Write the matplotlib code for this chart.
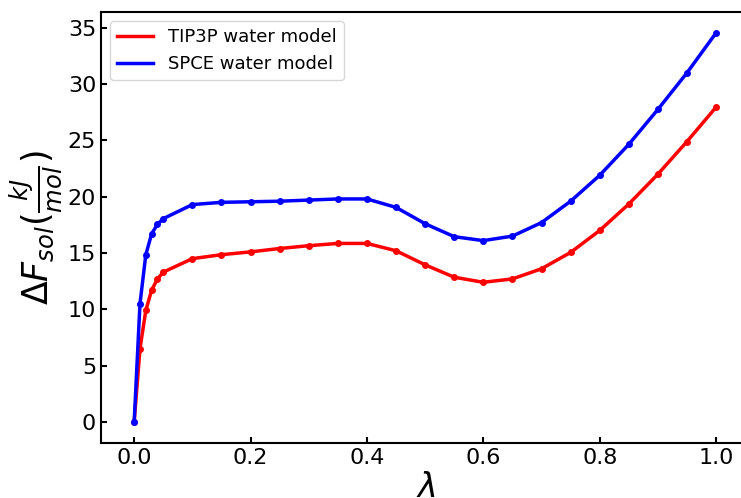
import matplotlib
matplotlib.use('Agg')
import matplotlib.pyplot as plt

lam = [0.0, 0.01, 0.02, 0.03, 0.04, 0.05, 0.1, 0.15, 0.2, 0.25, 0.3, 0.35, 0.4,
       0.45, 0.5, 0.55, 0.6, 0.65, 0.7, 0.75, 0.8, 0.85, 0.9, 0.95, 1.0]
tip3p = [0.0, 6.5, 9.9, 11.7, 12.7, 13.3, 14.5, 14.85, 15.1, 15.4, 15.65, 15.85, 15.85,
         15.2, 13.95, 12.85, 12.4, 12.7, 13.6, 15.05, 17.0, 19.35, 22.0, 24.9, 27.95]
spce = [0.0, 10.5, 14.85, 16.7, 17.55, 18.05, 19.3, 19.5, 19.55, 19.6, 19.7, 19.8, 19.8,
        19.05, 17.6, 16.45, 16.1, 16.5, 17.7, 19.6, 21.9, 24.65, 27.75, 31.0, 34.55]

fig = plt.figure(figsize=(7.41, 4.98), dpi=100)
ax = fig.add_axes([101 / 741, 55 / 498, 650 / 741, 431 / 498])

ax.plot(lam, tip3p, 'r-', lw=2.5, label='TIP3P water model')
ax.plot(lam, tip3p, 'r.', ms=8)
ax.plot(lam, spce, 'b-', lw=2.5, label='SPCE water model')
ax.plot(lam, spce, 'b.', ms=8)

ax.set_xlim(-0.057, 1.06)
ax.set_ylim(-1.87, 36.4)
ax.set_xticks([0.0, 0.2, 0.4, 0.6, 0.8, 1.0])
ax.set_yticks([0, 5, 10, 15, 20, 25, 30, 35])
ax.tick_params(direction='in', labelsize=16, width=1.5, length=4)
for s in ax.spines.values():
    s.set_linewidth(1.5)

ax.set_xlabel(r'$\lambda$', fontsize=24, labelpad=2)
ax.set_ylabel(r'$\Delta F_{sol}(\frac{kJ}{mol})$', fontsize=25, labelpad=2)
ax.legend(loc='upper left', fontsize=13)

plt.savefig('out.png', dpi=100)
